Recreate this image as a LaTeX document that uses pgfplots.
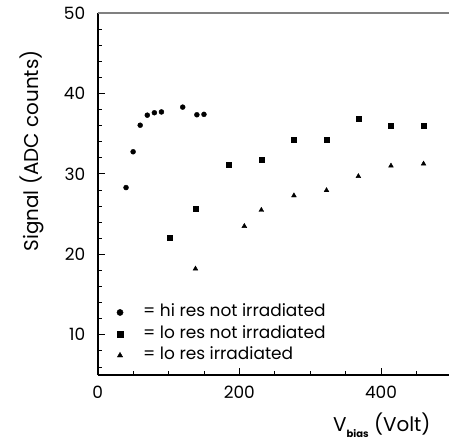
\documentclass[border=0pt]{standalone}
\usepackage{pgfplots}
\pgfplotsset{compat=1.18}
\usepackage{fontspec}
\setmainfont{Poppins}
\usetikzlibrary{calc}
\pgfplotsset{mylegend/.style={legend image code/.code={\path (-3bp,0bp) (22bp,0bp); \draw[##1, mark size=3.1bp] plot coordinates {(0bp,0bp)};}}}
\begin{document}
\begin{tikzpicture}
\begin{axis}[name=ax, at={(0,0)}, anchor=south west, scale only axis,
  width=354.2bp, height=362bp,
  xmin=0, xmax=500, ymin=5, ymax=50,
  axis x line*=bottom, axis y line*=left,
  x axis line style={-, black, line width=1.3bp},
  y axis line style={-, black, line width=1.8bp},
  xtick={0,200,400}, minor xtick={50,100,150,250,300,350,450},
  ytick={10,20,30,40,50}, minor ytick={6,8,12,14,16,18,22,24,26,28,32,34,36,38,42,44,46,48},
  tick align=inside, major tick length=7bp, minor tick length=4bp,
  every tick/.style={black, line width=0.9bp},
  tick label style={font=\fontsize{17}{20}\selectfont},
  /pgf/number format/assume math mode=true,
  xticklabel style={yshift=-8bp},
  yticklabel style={xshift=-9bp},
  ylabel={Signal (ADC counts)},
  every axis y label/.style={at={(axis description cs:-0.1855,0.619)}, rotate=90, anchor=center, font=\fontsize{20}{24}\selectfont},
  xlabel={V{\raisebox{-0.3em}{\fontsize{10}{11}\selectfont\bfseries bias}} (Volt)},
  every axis x label/.style={at={(axis description cs:0.655,-0.157)}, anchor=base west, font=\fontsize{20}{24}\selectfont},
  clip=false,
  legend cell align=left,
  legend style={draw=none, fill=none, at={(axis description cs:0.045,0.203)}, anchor=north west,
    font=\fontsize{17}{19}\selectfont, row sep=4bp,
    nodes={inner sep=1bp, text height=12bp, text depth=3.5bp}},
]
\addplot[only marks, mark=*, mark size=2.5pt, black, mylegend] coordinates {
(40,28.3) (50,32.75) (60,36.05) (70,37.3) (80,37.6) (90,37.7) (120,38.3) (140,37.35) (150,37.4)};
\addlegendentry{= hi res not irradiated}
\addplot[only marks, mark=square*, mark size=2.5pt, black, mylegend] coordinates {
(102,22.1) (138,25.7) (185,31.1) (231,31.8) (277,34.3) (323,34.2) (368,36.9) (414,36.0) (460,36.0)};
\addlegendentry{= lo res not irradiated}
\addplot[only marks, mark=triangle*, mark size=2.8pt, black, mylegend] coordinates {
(138,18.2) (207,23.5) (231,25.5) (277,27.3) (323,27.95) (368,29.7) (414,31.0) (460,31.25)};
\addlegendentry{= lo res irradiated}
\draw[gray, line width=1.5bp] (rel axis cs:0,1) -- (rel axis cs:1,1);
\end{axis}
\pgfresetboundingbox
\path ($(ax.south west)+(-97.7bp,-73bp)$) rectangle ($(ax.south west)+(351.3bp,375bp)$);
\end{tikzpicture}
\end{document}
